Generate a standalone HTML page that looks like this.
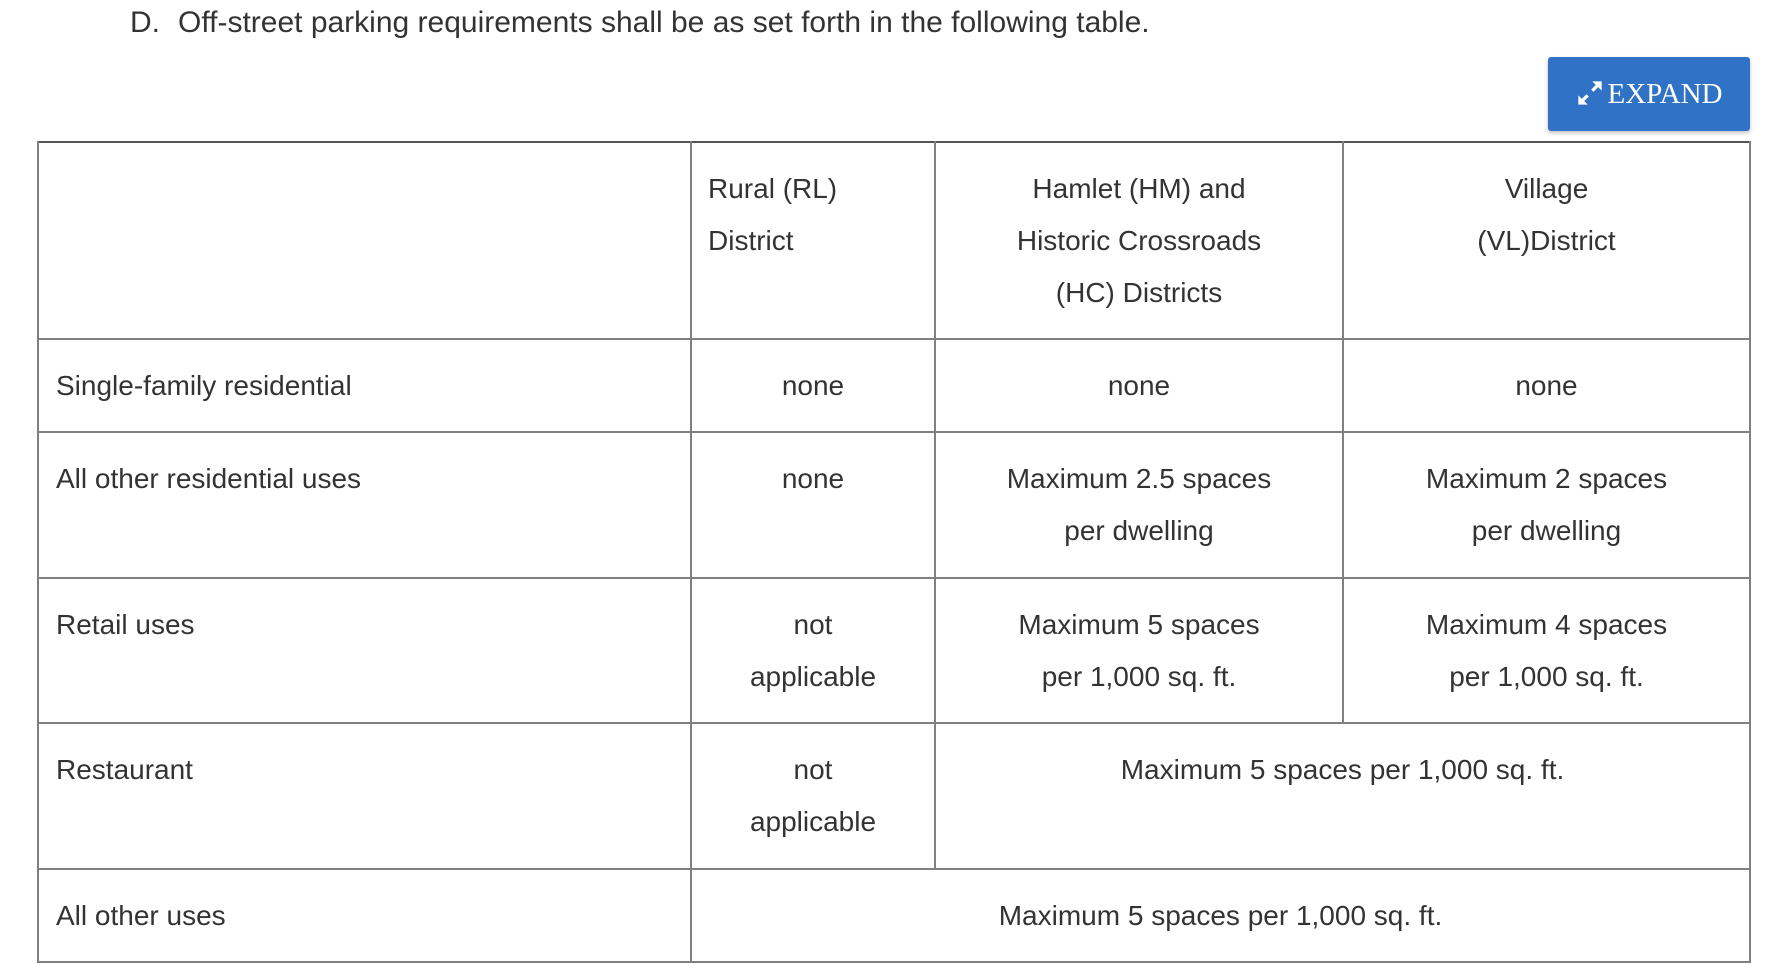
<!DOCTYPE html>
<html><head><meta charset="utf-8"><style>
body{margin:0;width:1778px;height:976px;background:#fff;position:relative;overflow:hidden;font-family:"Liberation Sans",sans-serif;color:#333}
.h{position:absolute;left:130px;top:5px;font-size:30px;line-height:36px;white-space:nowrap}
.h span{display:inline-block;width:48px}
.btn{position:absolute;left:1548px;top:57px;width:202px;height:74px;background:#2f72c6;border-radius:3px;box-shadow:0 2px 4px rgba(0,0,0,.25);color:#fff;font-family:"Liberation Serif",serif;font-size:29px;line-height:74px;text-align:center}
.hl{position:absolute;background:#808080;height:2px}
.vl{position:absolute;background:#808080;width:2px}
.c{position:absolute;font-size:28px;line-height:52px;text-align:center;white-space:nowrap}
.l{text-align:left}
</style></head><body>
<div class="h"><span>D.</span>Off-street parking requirements shall be as set forth in the following table.</div>
<div class="btn"><svg width="28" height="28" viewBox="0 0 24 24" style="vertical-align:-4px;margin-right:4px"><path fill="#fff" d="M14 2h8v8l-3-3-4 4-2-2 4-4zM10 22H2v-8l3 3 4-4 2 2-4 4z"/></svg>EXPAND</div>
<div class="hl" style="left:38px;top:141px;width:1713px;background:#555"></div>
<div class="hl" style="left:38px;top:338px;width:1713px"></div>
<div class="hl" style="left:38px;top:431px;width:1713px"></div>
<div class="hl" style="left:38px;top:577px;width:1713px"></div>
<div class="hl" style="left:38px;top:722px;width:1713px"></div>
<div class="hl" style="left:38px;top:868px;width:1713px"></div>
<div class="hl" style="left:38px;top:961px;width:1713px"></div>
<div class="vl" style="left:37px;top:141px;height:822px"></div>
<div class="vl" style="left:1749px;top:141px;height:822px"></div>
<div class="vl" style="left:690px;top:141px;height:822px"></div>
<div class="vl" style="left:934px;top:141px;height:729px"></div>
<div class="vl" style="left:1342px;top:141px;height:583px"></div>

<div class="c l" style="left:708px;top:163px">Rural (RL)<br>District</div>
<div class="c" style="left:936px;width:406px;top:163px">Hamlet (HM) and<br>Historic Crossroads<br>(HC) Districts</div>
<div class="c" style="left:1344px;width:405px;top:163px">Village<br>(VL)District</div>

<div class="c l" style="left:56px;top:360px">Single-family residential</div>
<div class="c" style="left:692px;width:242px;top:360px">none</div>
<div class="c" style="left:936px;width:406px;top:360px">none</div>
<div class="c" style="left:1344px;width:405px;top:360px">none</div>

<div class="c l" style="left:56px;top:453px">All other residential uses</div>
<div class="c" style="left:692px;width:242px;top:453px">none</div>
<div class="c" style="left:936px;width:406px;top:453px">Maximum 2.5 spaces<br>per dwelling</div>
<div class="c" style="left:1344px;width:405px;top:453px">Maximum 2 spaces<br>per dwelling</div>

<div class="c l" style="left:56px;top:599px">Retail uses</div>
<div class="c" style="left:692px;width:242px;top:599px">not<br>applicable</div>
<div class="c" style="left:936px;width:406px;top:599px">Maximum 5 spaces<br>per 1,000 sq. ft.</div>
<div class="c" style="left:1344px;width:405px;top:599px">Maximum 4 spaces<br>per 1,000 sq. ft.</div>

<div class="c l" style="left:56px;top:744px">Restaurant</div>
<div class="c" style="left:692px;width:242px;top:744px">not<br>applicable</div>
<div class="c" style="left:936px;width:813px;top:744px">Maximum 5 spaces per 1,000 sq. ft.</div>

<div class="c l" style="left:56px;top:890px">All other uses</div>
<div class="c" style="left:692px;width:1057px;top:890px">Maximum 5 spaces per 1,000 sq. ft.</div>
</body></html>
